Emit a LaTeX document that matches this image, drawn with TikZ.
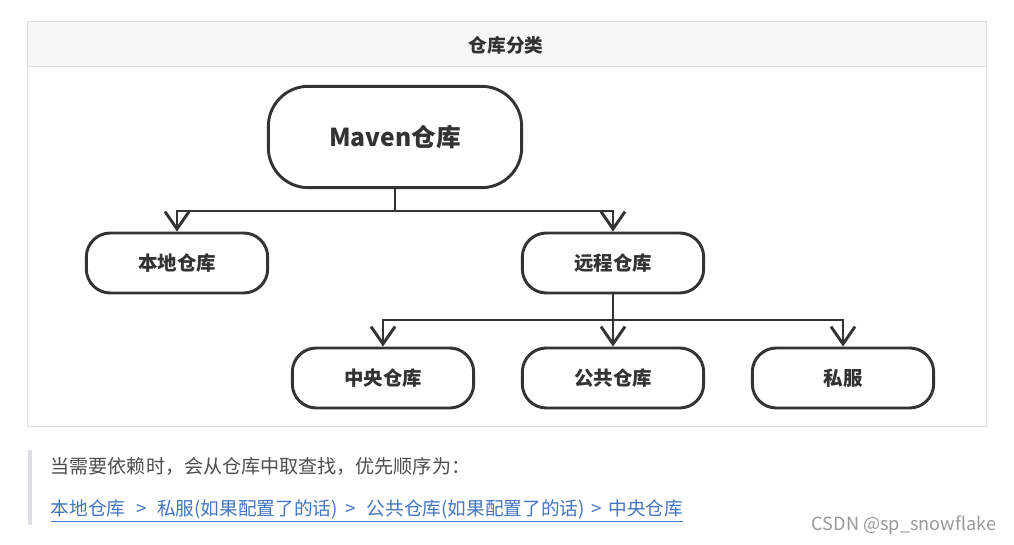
\documentclass[tikz,border=0pt]{standalone}
\usepackage{fontspec}
\newfontfamily\cjk{Noto Sans CJK SC}
\setmainfont{Noto Sans CJK SC}
\usepackage{xcolor}
\usetikzlibrary{arrows.meta}

\definecolor{lineDark}{HTML}{333333}
\definecolor{gridGray}{HTML}{DDDDDD}
\definecolor{headFill}{HTML}{F7F7F7}
\definecolor{quoteBar}{HTML}{DDDFE4}
\definecolor{textGray}{HTML}{4D4D4D}
\definecolor{linkBlue}{HTML}{4476C0}
\definecolor{markGray}{HTML}{999999}

\tikzset{
  repo/.style={draw=lineDark, line width=2.2pt, rounded corners=18pt,
    minimum width=136pt, minimum height=45pt, font=\cjk\fontsize{14.6}{16}\selectfont\bfseries,
    text=lineDark, fill=white},
  link/.style={draw=lineDark, line width=2.2pt},
  tip/.style={link, -{Straight Barb[length=13pt, width=18pt, line width=2.2pt]}}
}

\begin{document}
\begin{tikzpicture}[x=0.75pt, y=-0.75pt]
  \useasboundingbox (0,0) rectangle (1014,545);
  \fill[white] (0,0) rectangle (1014,545);

  % The table around the tree
  \fill[headFill] (27,22) rectangle (986,67);
  \draw[gridGray, line width=0.75pt] (27,22) rectangle (986,426);
  \draw[gridGray, line width=0.75pt] (27,67) -- (986,67);
  \node[font=\cjk\fontsize{14}{16}\selectfont\bfseries, text=lineDark] (title) at (506,45) {仓库分类};

  % Nodes of the tree
  \node[repo, minimum width=190pt, minimum height=76pt, rounded corners=30pt,
        font=\cjk\fontsize{18.5}{20}\selectfont\bfseries] (maven) at (395,137) {Maven仓库};
  \node[repo] (local) at (177,263) {本地仓库};
  \node[repo] (remote) at (613,263) {远程仓库};
  \node[repo] (central) at (383,378) {中央仓库};
  \node[repo] (public) at (613,378) {公共仓库};
  \node[repo] (private) at (843,378) {私服};

  % Split points
  \coordinate (split1) at (395,211);
  \coordinate (split2) at (613,320);

  % Connectors
  \draw[link] (maven.south) -- (split1);
  \draw[tip] (split1) -| (local.north);
  \draw[tip] (split1) -| (remote.north);
  \draw[link] (remote.south) -- (split2);
  \draw[tip] (split2) -| (central.north);
  \draw[tip] (split2) -- (public.north);
  \draw[tip] (split2) -| (private.north);

  % The note below
  \fill[quoteBar] (28,450) rectangle (32,525);
  \node[anchor=west, font=\cjk\fontsize{14.3}{16}\selectfont, text=textGray] (note) at (46,466)
    {当需要依赖时，会从仓库中取查找，优先顺序为：};
  \node[anchor=west, font=\cjk\fontsize{14}{16}\selectfont, text=linkBlue] (order) at (46,511)
    {\underline{本地仓库\hspace{8pt}>\hspace{8pt}私服(如果配置了的话)\hspace{6pt}>\hspace{8pt}公共仓库(如果配置了的话)\hspace{5pt}>\hspace{5pt}中央仓库}};
  \node[anchor=east, font=\cjk\fontsize{13.6}{15}\selectfont, text=markGray] (mark) at (1001,525)
    {CSDN @sp\_snowflake};
\end{tikzpicture}
\end{document}
